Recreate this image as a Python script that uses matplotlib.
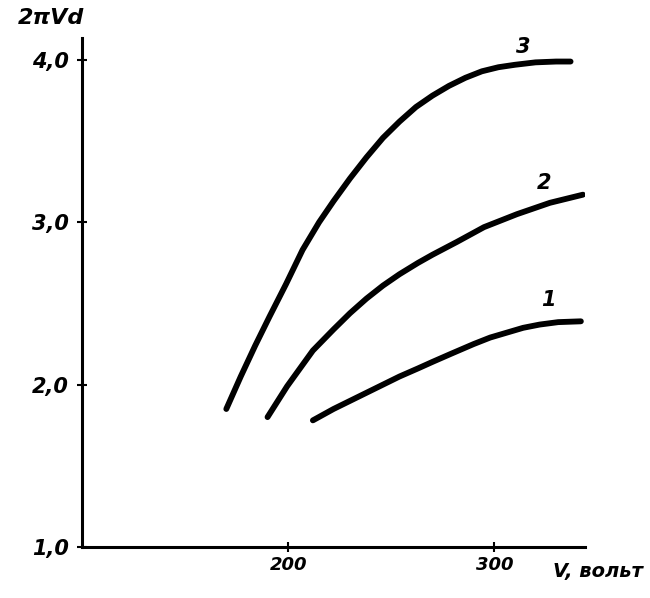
import matplotlib
matplotlib.use("Agg")
import matplotlib.pyplot as plt

# curve data (V, volts -> 2*pi*V*d)
v_1 = [212, 222, 230, 238, 246, 254, 263, 270, 279, 290, 298, 306, 314, 322, 331, 342]
y_1 = [1.78, 1.85, 1.90, 1.95, 2.00, 2.05, 2.10, 2.14, 2.19, 2.25, 2.29, 2.32, 2.35, 2.37, 2.385, 2.39]

v_2 = [190, 199.5, 212, 222, 230, 238, 246, 254, 263, 270, 282, 295, 311, 327, 343]
y_2 = [1.80, 1.99, 2.21, 2.34, 2.44, 2.53, 2.61, 2.68, 2.75, 2.80, 2.88, 2.97, 3.05, 3.12, 3.17]

v_3 = [170, 177, 184, 191, 199, 207, 215, 222, 230, 238, 246, 254, 262, 270, 278, 286, 294, 302, 310, 320, 330, 337]
y_3 = [1.85, 2.05, 2.24, 2.42, 2.62, 2.83, 3.00, 3.13, 3.27, 3.40, 3.52, 3.62, 3.71, 3.78, 3.84, 3.89, 3.93, 3.955, 3.97, 3.985, 3.99, 3.99]

curve_names = ["1", "2", "3"]
label_pos = [(326, 2.52), (324, 3.24), (314, 4.08)]

x_ticks = [200, 300]
y_ticks = [1.0, 2.0, 3.0, 4.0]
y_tick_labels = ["1,0", "2,0", "3,0", "4,0"]

hand = dict(family="DejaVu Sans", style="italic", weight="bold")

fig = plt.figure(figsize=(6.5, 5.98), dpi=100)
ax = fig.add_axes([82/650, 51/598, 503/650, 509/598])

for v, y in [(v_1, y_1), (v_2, y_2), (v_3, y_3)]:
    ax.plot(v, y, color="black", lw=4.2, solid_capstyle="round", solid_joinstyle="round")

for name, (lx, ly) in zip(curve_names, label_pos):
    ax.text(lx, ly, name, fontsize=15, ha="center", va="center", **hand)

ax.set_xlim(100, 344)
ax.set_ylim(1.0, 4.135)

for s in ["top", "right"]:
    ax.spines[s].set_visible(False)
for s in ["left", "bottom"]:
    ax.spines[s].set_linewidth(2.2)

ax.set_xticks(x_ticks)
ax.set_xticklabels([str(t) for t in x_ticks], fontsize=13, **hand)
ax.set_yticks(y_ticks)
ax.set_yticklabels(y_tick_labels, fontsize=15, **hand)
ax.tick_params(direction="inout", length=7, width=1.5, pad=6)
ax.tick_params(axis="x", pad=3)

fig.text(18/650, 1 - 18/598, "2πVd", fontsize=16, va="center", ha="left", **hand)
fig.text(553/650, 1 - 571/598, "V, вольт", fontsize=14, va="center", ha="left", **hand)

fig.savefig("out.png", dpi=100)
